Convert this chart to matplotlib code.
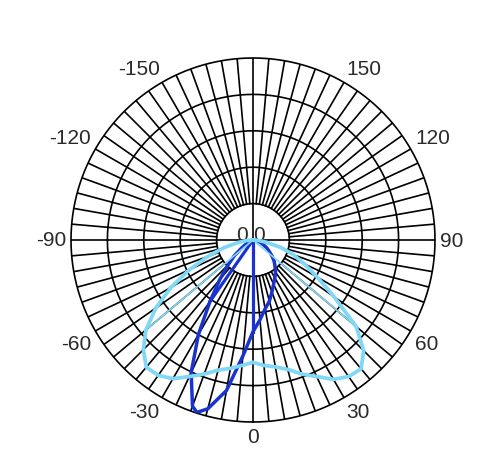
import numpy as np
import matplotlib
matplotlib.use("Agg")
import matplotlib.pyplot as plt

# luminous intensity curves, gamma angle (deg) vs intensity
gamma_dark = [90, 85, 80, 75, 70, 65, 60, 55, 50, 45, 40, 35, 30, 25, 20, 15, 10, 5, 0,
              -5, -10, -15, -18, -20, -25, -30, -35, -40, -45, -50, -55, -60, -65, -70,
              -75, -80, -85, -90]
value_dark = [0, 3, 5, 8, 12, 16, 22, 27, 34, 41, 47, 54, 60, 67, 76, 87, 96, 110, 126,
              160, 210, 240, 249, 243, 201, 150, 103, 71, 49, 33, 19, 10, 5, 3,
              1, 0, 0, 0]

gamma_light = [90, 85, 80, 75, 70, 65, 60, 55, 50, 45, 40, 35, 30, 25, 20, 15, 10, 5, 0,
               -5, -10, -15, -20, -25, -30, -35, -40, -45, -50, -55, -60, -65, -70,
               -75, -80, -85, -90]
value_light = [0, 8, 19, 40, 59, 78, 102, 136, 185, 215, 231, 229, 221, 207, 196, 184, 177, 173, 168,
               173, 179, 185, 196, 207, 220, 227, 228, 213, 192, 163, 130, 96, 66,
               42, 22, 10, 0]

# radial lines drawn from the centre to the curve
spokes_dark = [0, -35]
spokes_light = [50, -50]

tick_angles = [-150, -120, -90, -60, -30, 0, 30, 60, 90, 120, 150]
rings = [50, 100, 150, 200, 250]
rmax = 250

col_dark = "#1a33cf"
col_light = "#80d8f6"
col_text = "#2a2a2a"

plt.rcParams["font.family"] = ["Liberation Sans", "DejaVu Sans"]


def main():
    fig = plt.figure(figsize=(4.84, 4.64), dpi=100)
    ax = fig.add_axes([71 / 484, 41 / 464, 364 / 484, 364 / 464], projection="polar")
    ax.set_theta_zero_location("S")
    ax.set_theta_direction(1)
    ax.set_ylim(0, rmax)
    ax.set_xticks([])
    ax.set_yticks([])
    ax.grid(False)
    ax.spines["polar"].set_visible(False)

    # rejilla: circulos
    th = np.linspace(0, 2 * np.pi, 721)
    for r in rings:
        ax.plot(th, np.full_like(th, r), color="black", lw=1.2, zorder=1, clip_on=False)

    # rejilla: radios cada 5 grados
    for a in range(0, 360, 5):
        r0 = 0 if a % 90 == 0 else rings[0]
        t = np.deg2rad(a)
        ax.plot([t, t], [r0, rmax], color="black", lw=1.2, zorder=1)

    # curva oscura
    td = np.deg2rad(gamma_dark)
    ax.plot(td, value_dark, color=col_dark, lw=2.5, zorder=3, solid_joinstyle="round")
    for g in spokes_dark:
        v = value_dark[gamma_dark.index(g)]
        ax.plot([np.deg2rad(g)] * 2, [0, v], color=col_dark, lw=2.3, zorder=3)

    # curva clara
    tl = np.deg2rad(gamma_light)
    ax.plot(tl, value_light, color=col_light, lw=2.7, zorder=4, solid_joinstyle="round")
    for g in spokes_light:
        v = value_light[gamma_light.index(g)]
        ax.plot([np.deg2rad(g)] * 2, [0, v * 0.97], color=col_light, lw=1.2, zorder=4)

    # etiquetas de angulo, alineadas segun el lado
    r_lab = 187 / 182 * rmax
    for a in tick_angles:
        t = np.deg2rad(a)
        sx = np.sin(t)      # + derecha
        sy = -np.cos(t)     # + arriba
        ha = "center" if abs(sx) < 0.1 else ("left" if sx > 0 else "right")
        va = "center" if abs(sy) < 0.1 else ("bottom" if sy > 0 else "top")
        ax.text(t, r_lab, str(a), ha=ha, va=va, fontsize=15, color=col_text)

    # etiquetas "0" en el centro
    ax.annotate("0", xy=(0, 0), xytext=(-3.6, 0.3), textcoords="offset points",
                ha="right", va="baseline", fontsize=15, color=col_text, zorder=2)
    ax.annotate("0", xy=(0, 0), xytext=(0.3, 0.3), textcoords="offset points",
                ha="left", va="baseline", fontsize=15, color=col_text, zorder=2)

    fig.savefig("out.png", dpi=100)


if __name__ == "__main__":
    main()
